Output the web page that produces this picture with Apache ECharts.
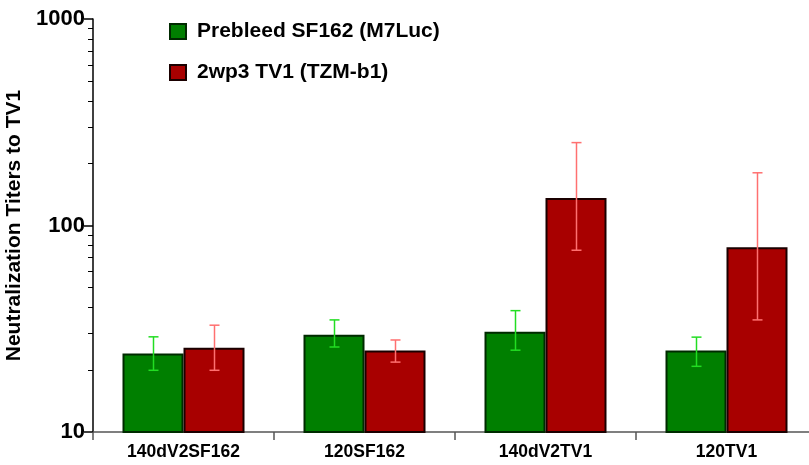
<!DOCTYPE html>
<html><head><meta charset="utf-8">
<script src="https://cdn.jsdelivr.net/npm/echarts@6/dist/echarts.min.js"></script>
<style>html,body{margin:0;padding:0;background:#fff}#c{width:809px;height:465px}</style>
</head><body><div id="c"></div>
<script>
const categories = ['140dV2SF162', '120SF162', '140dV2TV1', '120TV1'];
const seriesNames = ['Prebleed SF162 (M7Luc)', '2wp3 TV1 (TZM-b1)'];
const prebleed = [24, 29.6, 30.6, 24.8];
const prebleedLow = [19.9, 25.8, 24.9, 20.8];
const prebleedHigh = [28.9, 34.9, 38.7, 28.8];
const wp3 = [25.6, 24.8, 136, 78.4];
const wp3Low = [19.9, 21.8, 75.9, 34.9];
const wp3High = [32.9, 27.9, 252, 180];
const majorTicks = [10, 100, 1000];
const minorTicks = [20,30,40,50,60,70,80,90,200,300,400,500,600,700,800,900];

const FONT = 'Liberation Sans, Arial, sans-serif';
const BAR_W = 61;

function errData(low, high) {
  return categories.map((c, i) => [i, low[i], high[i]]);
}
function errRender(offset, color) {
  return function (params, api) {
    const lo = api.coord([api.value(0), api.value(1)]);
    const hi = api.coord([api.value(0), api.value(2)]);
    const x = Math.round(lo[0] + offset) + 0.5;
    const cap = 5;
    const st = { stroke: color, lineWidth: 1.5 };
    return {
      type: 'group',
      children: [
        { type: 'line', shape: { x1: x, y1: hi[1], x2: x, y2: lo[1] }, style: st },
        { type: 'line', shape: { x1: x - cap, y1: hi[1], x2: x + cap, y2: hi[1] }, style: st },
        { type: 'line', shape: { x1: x - cap, y1: lo[1], x2: x + cap, y2: lo[1] }, style: st }
      ]
    };
  };
}

const chart = echarts.init(document.getElementById('c'), null, { renderer: 'canvas' });
chart.setOption({
  animation: false,
  textStyle: { fontFamily: FONT },
  grid: { left: 93, top: 19, bottom: 33, width: 724, containLabel: false, outerBoundsMode: 'none' },
  legend: {
    orient: 'vertical', left: 169, top: 21, itemGap: 20, padding: 0,
    itemWidth: 16, itemHeight: 15, icon: 'rect',
    textStyle: { fontFamily: FONT, fontWeight: 'bold', fontSize: 21, color: '#000', padding: [0, 0, 0, 6] },
    data: seriesNames
  },
  xAxis: {
    type: 'category', data: categories,
    axisLine: { lineStyle: { color: '#555', width: 1.5 } },
    axisTick: { show: true, length: 8, lineStyle: { color: '#555', width: 1.5 } },
    axisLabel: { fontFamily: FONT, fontWeight: 'bold', fontSize: 17.5, color: '#000', margin: 11 }
  },
  yAxis: [{
    type: 'log', logBase: 10, min: 10, max: 1000,
    name: 'Neutralization Titers to TV1', nameLocation: 'middle', nameGap: 63,
    nameTextStyle: { fontFamily: FONT, fontWeight: 'bold', fontSize: 21, color: '#000' },
    axisLine: { show: true, lineStyle: { color: '#000', width: 1.5 } },
    axisTick: { show: true, length: 9, lineStyle: { color: '#000', width: 1.5 }, customValues: majorTicks },
    axisLabel: { fontFamily: FONT, fontWeight: 'bold', fontSize: 22, color: '#000', margin: 8,
      customValues: majorTicks, formatter: v => String(Math.round(v)) },
    splitLine: { show: false }
  }, {
    type: 'log', logBase: 10, min: 10, max: 1000, position: 'left', offset: 0,
    axisLine: { show: false },
    axisTick: { show: true, length: 5, lineStyle: { color: '#000', width: 1 }, customValues: minorTicks },
    axisLabel: { show: false },
    splitLine: { show: false }
  }],
  series: [
    { name: seriesNames[0], type: 'bar', data: prebleed, barWidth: BAR_W, barGap: '0%',
      itemStyle: { color: '#007f00', borderColor: '#002a00', borderWidth: 2 } },
    { name: seriesNames[1], type: 'bar', data: wp3, barWidth: BAR_W, barGap: '0%',
      itemStyle: { color: '#a80000', borderColor: '#1a0000', borderWidth: 2 } },
    { type: 'custom', renderItem: errRender(-BAR_W / 2, '#22dd22'), data: errData(prebleedLow, prebleedHigh), z: 5 },
    { type: 'custom', renderItem: errRender(BAR_W / 2, '#ff7070'), data: errData(wp3Low, wp3High), z: 5 }
  ]
});
</script></body></html>
